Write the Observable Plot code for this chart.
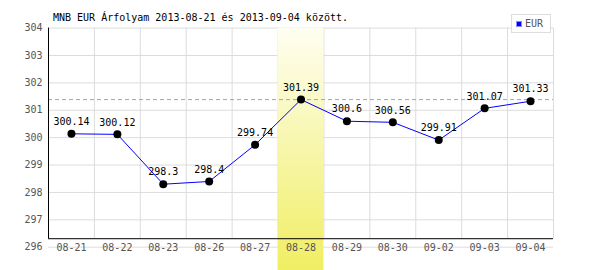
<!DOCTYPE html>
<html><head><meta charset="utf-8">
<script src="https://cdn.jsdelivr.net/npm/d3@7"></script>
<script src="https://cdn.jsdelivr.net/npm/@observablehq/plot@0.6"></script>
<style>
body{margin:0;background:#fff;}
#wrap{position:relative;width:600px;height:270px;font-family:"DejaVu Sans Mono",monospace;}
#title{position:absolute;left:53px;top:12px;font-size:10px;color:#000;white-space:nowrap;line-height:12px;}
#legend{position:absolute;left:511px;top:14px;width:40px;height:19px;border:1px solid #ddd;background:#fff;font-size:10px;color:#555;box-sizing:border-box;}
#legend .sw{position:absolute;left:4px;top:6px;width:6px;height:6px;background:#0000ff;border:1px solid #88f;box-sizing:border-box;}
#legend .lb{position:absolute;left:13px;top:3px;line-height:12px;}
#chart{position:absolute;left:0;top:0;}
</style>
</head><body>
<div id="wrap">
  <div id="chart"></div>
  <div id="title">MNB EUR Árfolyam 2013-08-21 és 2013-09-04 között.</div>
  <div id="legend"><div class="sw"></div><div class="lb">EUR</div></div>
</div>
<script>
const dates = ["08-21","08-22","08-23","08-26","08-27","08-28","08-29","08-30","09-02","09-03","09-04"];
const values = [300.14, 300.12, 298.3, 298.4, 299.74, 301.39, 300.6, 300.56, 299.91, 301.07, 301.33];
const yTicks = [296, 297, 298, 299, 300, 301, 302, 303, 304];
const highlightDate = "08-28";
const axisBase = 296.31;

const maxVal = d3.max(values);
const hi = dates.indexOf(highlightDate);
const idx = dates.map((d, i) => i);
const font = "DejaVu Sans Mono, monospace";

const plot = Plot.plot({
  width: 600,
  height: 270,
  marginLeft: 48,
  marginRight: 47,
  marginTop: 27.6,
  marginBottom: 23.3,
  style: {fontFamily: font, fontSize: "10px", background: "transparent"},
  x: {type: "linear", domain: [-0.5, dates.length - 0.5], axis: null},
  y: {domain: [296, 304]},
  marks: [
    Plot.ruleY(yTicks, {stroke: "#dcdcdc", strokeOpacity: 1}),
    Plot.ruleX(idx.map(i => i + 0.5), {y1: axisBase, y2: 304, stroke: "#dcdcdc", strokeOpacity: 1}),
    Plot.rect([hi], {x1: d => d - 0.5, x2: d => d + 0.5, y1: 295.1, y2: 304, fill: "url(#hlgrad)", clip: false}),
    Plot.ruleY([maxVal], {stroke: "#9c9cf0", strokeDasharray: "4,3", strokeOpacity: 1}),
    Plot.ruleX([-0.5], {y1: axisBase, y2: 304, stroke: "#000", strokeOpacity: 1}),
    Plot.ruleY([axisBase], {x1: -0.5, x2: dates.length - 0.5, stroke: "#000", strokeOpacity: 1}),
    Plot.line(values, {x: (d, i) => i, y: d => d, stroke: "#0000ff", strokeWidth: 1}),
    Plot.dot(values, {x: (d, i) => i, y: d => d, r: 4, fill: "#000", stroke: null}),
    Plot.text(values, {x: (d, i) => i, y: d => d, text: d => String(d), dy: -12, fill: "#000", fontSize: 10, lineAnchor: "middle"}),
    Plot.text(dates, {x: (d, i) => i, y: 296, text: d => d, dy: 1, fill: "#555", fontSize: 10, lineAnchor: "middle"}),
    Plot.axisY({ticks: yTicks, tickSize: 0, tickPadding: 6, tickFormat: d => String(d), label: null, fill: "#555", fontSize: 10})
  ]
});

const svg = d3.select(plot);
const defs = svg.insert("defs", ":first-child");
const g = defs.append("linearGradient").attr("id", "hlgrad").attr("x1", 0).attr("y1", 0).attr("x2", 0).attr("y2", 1);
g.append("stop").attr("offset", "0%").attr("stop-color", "#fefef2");
g.append("stop").attr("offset", "100%").attr("stop-color", "#f0ee62");

document.getElementById("chart").appendChild(plot);
</script>
</body></html>
